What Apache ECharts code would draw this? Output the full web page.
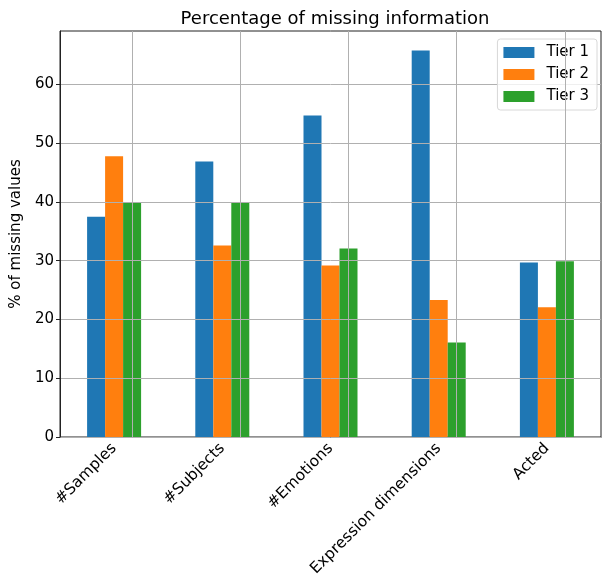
<!DOCTYPE html>
<html>
<head>
<meta charset="utf-8">
<script src="https://cdn.jsdelivr.net/npm/echarts@6/dist/echarts.min.js"></script>
<style>
  html, body { margin: 0; padding: 0; background: #fff; }
  #chart { width: 602px; height: 580px; }
</style>
</head>
<body>
<div id="chart"></div>
<script>
// Share of records with missing values, per attribute and tier
const categories = ['#Samples', '#Subjects', '#Emotions', 'Expression dimensions', 'Acted'];
const tier1 = [37.5, 46.9, 54.7, 65.8, 29.7];
const tier2 = [47.8, 32.6, 29.2, 23.3, 22.1];
const tier3 = [39.9, 39.9, 32.1, 16.1, 29.9];
const seriesNames = ['Tier 1', 'Tier 2', 'Tier 3'];
const yTicks = [0, 10, 20, 30, 40, 50, 60];

const colors = ['#1f77b4', '#ff7f0e', '#2ca02c'];
const font = 'DejaVu Sans';
const gridColor = '#b0b0b0';
const fs = 15;

const chart = echarts.init(document.getElementById('chart'), null, { renderer: 'canvas' });

function barSeries(name, data, color, withGrid) {
  const s = {
    name: name,
    type: 'bar',
    data: data,
    barWidth: 18,
    barGap: '0%',
    itemStyle: { color: color },
    z: 2
  };
  if (withGrid) {
    // vertical grid lines through each category centre, drawn over the bars
    s.markLine = {
      silent: true,
      symbol: 'none',
      animation: false,
      label: { show: false },
      lineStyle: { color: gridColor, width: 1, type: 'solid' },
      data: categories.map(c => ({ xAxis: c }))
    };
  }
  return s;
}

chart.setOption({
  animation: false,
  backgroundColor: '#fff',
  color: colors,
  title: {
    text: 'Percentage of missing information',
    left: 330,
    textAlign: 'center',
    top: 5,
    textStyle: { fontFamily: font, fontSize: 18, fontWeight: 'normal', color: '#000' }
  },
  legend: {
    data: seriesNames,
    orient: 'vertical',
    right: 5,
    top: 39,
    itemWidth: 31,
    itemHeight: 11,
    itemGap: 7,
    padding: [6, 8, 6, 6],
    backgroundColor: 'rgba(255,255,255,0.8)',
    borderColor: '#d8d8d8',
    borderWidth: 1,
    borderRadius: 3,
    icon: 'rect',
    textStyle: { fontFamily: font, fontSize: fs, lineHeight: 12, color: '#000', padding: [0, 0, 0, 7] }
  },
  grid: {
    left: 60,
    right: 1,
    top: 31,
    bottom: 143,
    show: true,
    borderColor: '#222',
    borderWidth: 1,
    backgroundColor: 'transparent'
  },
  xAxis: {
    type: 'category',
    data: categories,
    axisLine: { lineStyle: { color: '#222', width: 1 } },
    axisTick: { alignWithLabel: true, length: 4, lineStyle: { color: '#222' } },
    axisLabel: {
      rotate: 45,
      interval: 0,
      margin: 9,
      fontFamily: font,
      fontSize: 15.5,
      color: '#000'
    },
    splitLine: { show: false }
  },
  yAxis: {
    type: 'value',
    min: 0,
    max: 69.1,
    interval: 10,
    z: 3,
    name: '% of missing values',
    nameLocation: 'middle',
    nameGap: 36,
    nameTextStyle: { fontFamily: font, fontSize: fs, color: '#000' },
    axisLine: { show: true, lineStyle: { color: '#222', width: 1 } },
    axisTick: { show: true, length: 4, customValues: yTicks, lineStyle: { color: '#222' } },
    axisLabel: {
      fontFamily: font,
      fontSize: fs,
      color: '#000',
      margin: 6,
      customValues: yTicks
    },
    splitLine: { show: true, lineStyle: { color: gridColor, width: 1 } }
  },
  series: [
    barSeries(seriesNames[0], tier1, colors[0], false),
    barSeries(seriesNames[1], tier2, colors[1], false),
    barSeries(seriesNames[2], tier3, colors[2], true)
  ]
});
</script>
</body>
</html>
